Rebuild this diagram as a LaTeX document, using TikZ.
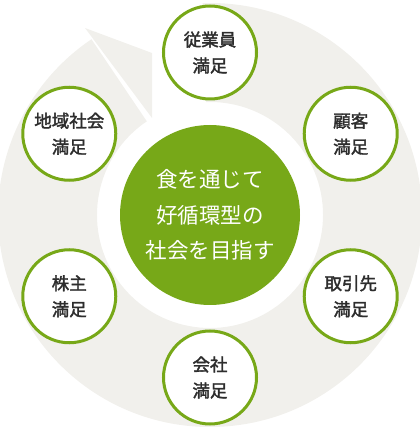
\documentclass[tikz,border=0pt]{standalone}
\usepackage{fontspec}
\setmainfont{Noto Sans CJK JP}
\newfontfamily\labelfont[FakeBold=2]{Noto Sans CJK JP}
\usetikzlibrary{calc}
\definecolor{ringgray}{RGB}{241,240,236}
\definecolor{leafgreen}{RGB}{119,168,24}
\definecolor{labeltext}{RGB}{45,45,45}
\tikzset{
  stakeholder/.style={circle, draw=leafgreen, line width=3pt, fill=white,
    minimum size=93pt, inner sep=0pt, align=center, text=labeltext,
    font=\labelfont\fontsize{17.5}{26}\selectfont},
  centerbox/.style={circle, fill=leafgreen, minimum size=180pt, inner sep=0pt,
    align=center, text=white, font=\fontsize{21.5}{35.5}\selectfont}
}
\begin{document}
\begin{tikzpicture}[x=1pt,y=1pt]
\useasboundingbox (0,0) rectangle (420,429);
\clip (0,0) rectangle (420,429);
\coordinate (C) at (210,214);
% ring with arrow
\fill[ringgray] ($(C)+(92:212)$) arc[start angle=92, end angle=-236, radius=212]
  -- ($(C)+(124:113)$) arc[start angle=124, end angle=452, radius=113] -- cycle;
\fill[ringgray] (85,401) -- (152,376) -- (152,311) -- cycle;
% center
\node[centerbox] (core) at (C) {食を通じて\\好循環型の\\社会を目指す};
% stakeholders
\node[stakeholder] (emp) at ($(C)+(90:162.5)$) {従業員\\満足};
\node[stakeholder] (cus) at ($(C)+(30:162.5)$) {顧客\\満足};
\node[stakeholder] (sup) at ($(C)+(-30:162.5)$) {取引先\\満足};
\node[stakeholder] (com) at ($(C)+(-90:162.5)$) {会社\\満足};
\node[stakeholder] (sha) at ($(C)+(-150:162.5)$) {株主\\満足};
\node[stakeholder] (loc) at ($(C)+(150:162.5)$) {地域社会\\満足};
\end{tikzpicture}
\end{document}
